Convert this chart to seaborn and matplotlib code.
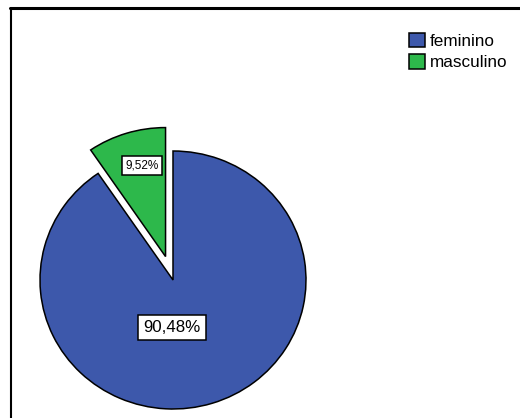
import matplotlib
matplotlib.use("Agg")
import matplotlib.pyplot as plt
from matplotlib.lines import Line2D
from matplotlib.patches import Patch
import seaborn as sns

# Sexo dos participantes
categories = ["feminino", "masculino"]
percentages = [90.48, 9.52]
colors = ["#3D58AB", "#2DB84B"]

sns.set_theme(style="white")
plt.rcParams["font.family"] = ["Liberation Sans", "DejaVu Sans"]
plt.rcParams["text.color"] = "black"

W, H = 520, 418
fig = plt.figure(figsize=(W / 100, H / 100), dpi=100)
ax = fig.add_axes([0, 0, 1, 1])

# pie centre and radii in pixels
cx, cy, rx, ry = 173, 280, 133, 129

wedges, texts, autotexts = ax.pie(
    percentages,
    colors=colors,
    startangle=90,
    counterclock=False,
    explode=[0, 0.19],
    autopct=lambda p: f"{p:.2f}%".replace(".", ","),
    wedgeprops=dict(edgecolor="black", linewidth=1.1),
    radius=1,
)
ax.set_aspect("auto")
ax.set_xlim(-cx / rx, (W - cx) / rx)
ax.set_ylim((cy - H) / ry, cy / ry)
ax.axis("off")

# value labels in boxed text
label_pos = [(-0.008, -0.37), (-0.235, 0.89)]
label_size = [12.2, 8.5]
for t, pos, fs in zip(autotexts, label_pos, label_size):
    t.set_position(pos)
    t.set_fontsize(fs)
    t.set_color("black")
    t.set_ha("center")
    t.set_va("center")
    t.set_bbox(dict(boxstyle="square,pad=0.3", facecolor="white",
                    edgecolor="black", linewidth=1.1))

# outer chart frame (top and left edges)
fig.add_artist(Line2D([10 / W, 1], [1 - 7.5 / H, 1 - 7.5 / H],
                      transform=fig.transFigure, color="black", linewidth=2.2))
fig.add_artist(Line2D([10.5 / W, 10.5 / W], [0, 1 - 7.5 / H],
                      transform=fig.transFigure, color="black", linewidth=1.5))

handles = [Patch(facecolor=c, edgecolor="black", linewidth=1.1) for c in colors]
leg = fig.legend(handles, categories, loc="upper left",
                 bbox_to_anchor=(409 / W, 1 - 32.5 / H),
                 frameon=False, fontsize=12.3, borderpad=0, borderaxespad=0,
                 handlelength=0.95, handleheight=0.95, handletextpad=0.25,
                 labelspacing=0.3)
for t in leg.get_texts():
    t.set_color("black")

fig.savefig("out.png", dpi=100)
